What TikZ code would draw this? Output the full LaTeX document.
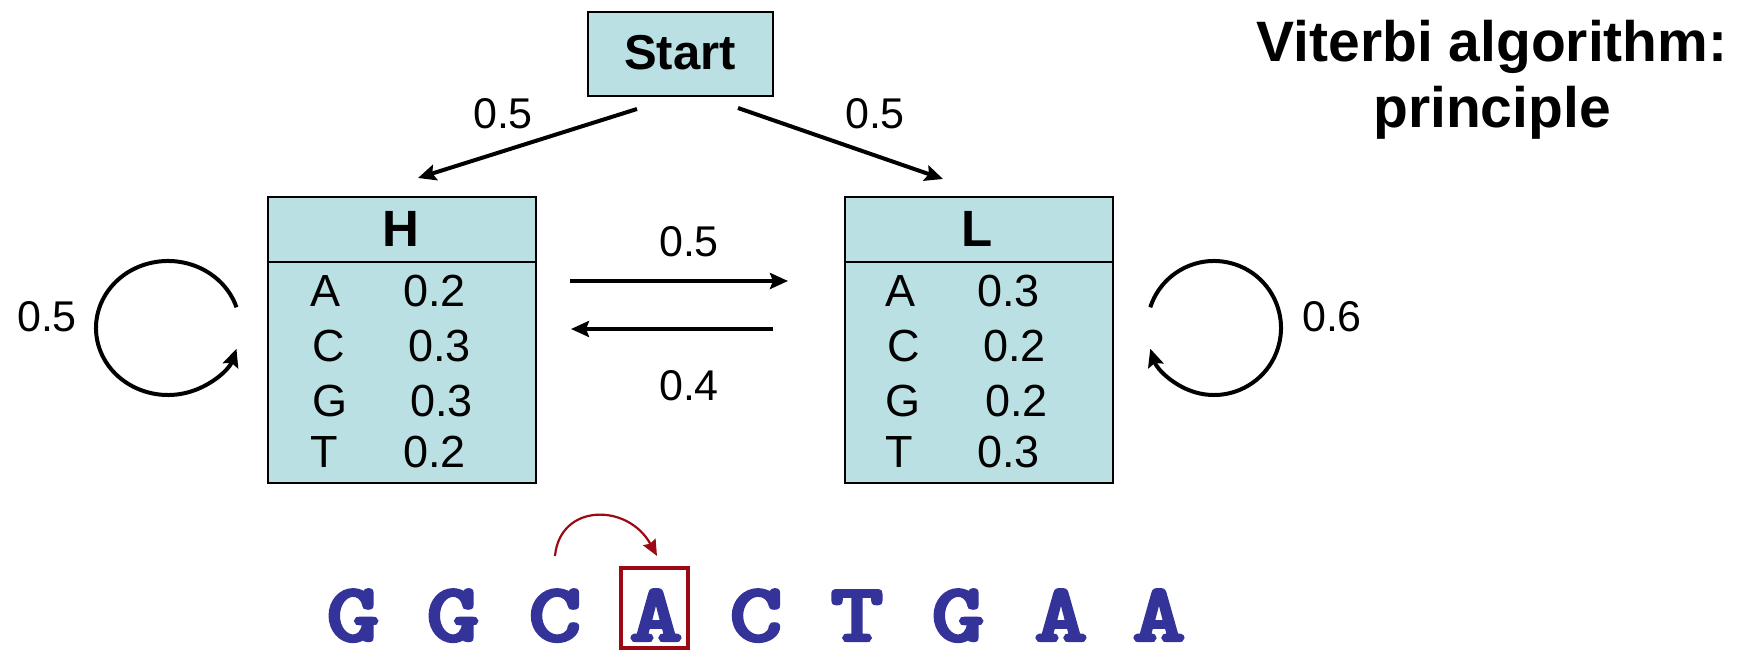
\documentclass[tikz,border=0pt]{standalone}
\usepackage{fontspec}
\setmainfont{Liberation Sans}
\newfontfamily\seqfont{lmmonolt10-bold.otf}[FakeBold=3]
\usetikzlibrary{arrows.meta}
\definecolor{boxfill}{RGB}{186,224,227}
\definecolor{seqblue}{RGB}{51,51,153}
\definecolor{darkred}{RGB}{155,10,20}
\newcommand{\wideletter}[1]{\scalebox{1.22}[1]{#1}}
\begin{document}
\begin{tikzpicture}[x=0.5pt,y=-0.5pt,
  statebox/.style={draw=black, line width=1.1pt, fill=boxfill, rectangle, inner sep=0pt},
  lbl/.style={inner sep=0pt, anchor=base, font=\fontsize{21.5}{26}\selectfont},
  row/.style={inner sep=0pt, anchor=base west, font=\fontsize{22.5}{27}\selectfont},
  hdr/.style={inner sep=0pt, anchor=base, font=\bfseries\fontsize{25.5}{30}\selectfont},
  trans/.style={line width=2pt, -{Stealth[length=9pt,width=8pt,inset=1.5pt]}},
  loopst/.style={line width=2pt, -{Stealth[length=9pt,width=8pt,inset=1.5pt]}},
  seq/.style={inner sep=0pt, anchor=base, text=seqblue, font=\seqfont\fontsize{41.5}{48}\selectfont}]

\useasboundingbox (0,0) rectangle (1742,651);

% title
\node[inner sep=0pt, anchor=north, align=center, font=\bfseries\fontsize{28.5}{33}\selectfont] (title) at (1492,20) {Viterbi algorithm:\\principle};

% start
\node[statebox, minimum width=92.5pt, minimum height=42pt] (start) at (680.5,54) {};
\node[hdr, font=\bfseries\fontsize{24.5}{29}\selectfont] (starttxt) at (680,70) {Start};

% state boxes
\node[statebox, minimum width=134pt, minimum height=143pt] (H) at (402,340) {};
\node[statebox, minimum width=134pt, minimum height=143pt] (L) at (979,340) {};
\coordinate (div) at (0,262);
\draw[line width=1.1pt] (H.west |- div) -- (H.east |- div);
\draw[line width=1.1pt] (L.west |- div) -- (L.east |- div);
\node[hdr] (Htxt) at (401,247) {H};
\node[hdr] (Ltxt) at (977,247) {L};

% H emissions
\node[row] (hA) at (310,307) {A};
\node[row] (hAv) at (403,307) {0.2};
\node[row] (hC) at (312,362) {C};
\node[row] (hCv) at (408,362) {0.3};
\node[row] (hG) at (312,417) {G};
\node[row] (hGv) at (410,417) {0.3};
\node[row] (hT) at (310,468) {T};
\node[row] (hTv) at (403,468) {0.2};

% L emissions
\node[row] (lA) at (885,307) {A};
\node[row] (lAv) at (977,307) {0.3};
\node[row] (lC) at (887,362) {C};
\node[row] (lCv) at (983,362) {0.2};
\node[row] (lG) at (885,417) {G};
\node[row] (lGv) at (985,417) {0.2};
\node[row] (lT) at (885,468) {T};
\node[row] (lTv) at (977,468) {0.3};

% transitions from start
\coordinate (sH1) at (637,109);
\coordinate (sH2) at (418,178);
\coordinate (sL1) at (738,108);
\coordinate (sL2) at (943,179);
\draw[trans] (sH1) -- (sH2);
\draw[trans] (sL1) -- (sL2);
\node[lbl] (pSH) at (503,129) {0.5};
\node[lbl] (pSL) at (875,129) {0.5};

% H <-> L
\coordinate (hl1) at (570,281);
\coordinate (hl2) at (788,281);
\coordinate (lh1) at (773,329);
\coordinate (lh2) at (571,329);
\draw[trans] (hl1) -- (hl2);
\draw[trans] (lh1) -- (lh2);
\node[lbl] (pHL) at (689,257) {0.5};
\node[lbl] (pLH) at (689,401) {0.4};

% self loops
\coordinate (cH) at (168,328);
\coordinate (cL) at (1214,328);
\draw[loopst] ([shift={(18:36pt and 33.5pt)}]cH) arc[start angle=18, end angle=342, x radius=36pt, y radius=33.5pt];
\draw[loopst] ([shift={(162:33.5pt)}]cL) arc[start angle=162, end angle=-162, radius=33.5pt];
\node[lbl] (pHH) at (47,332) {0.5};
\node[lbl] (pLL) at (1332,332) {0.6};

% sequence
\node[seq] (s1) at (353,641) {\wideletter{G}};
\node[seq] (s2) at (453,641) {\wideletter{G}};
\node[seq] (s3) at (555,641) {\wideletter{C}};
\node[seq] (s4) at (656,641) {\wideletter{A}};
\node[seq] (s5) at (756,641) {\wideletter{C}};
\node[seq] (s6) at (857,641) {\wideletter{T}};
\node[seq] (s7) at (958,641) {\wideletter{G}};
\node[seq] (s8) at (1061,641) {\wideletter{A}};
\node[seq] (s9) at (1159,641) {\wideletter{A}};
\node[draw=darkred, line width=2pt, inner sep=0pt, minimum width=33.5pt, minimum height=40pt] (abox) at (654.5,608) {};

\coordinate (ra) at (555,556);
\coordinate (rb) at (657,556);
\draw[darkred, line width=1.1pt, -{Stealth[length=8pt,width=7pt,inset=1pt]}] (ra) .. controls (560,503) and (628,503) .. (rb);
\end{tikzpicture}
\end{document}
